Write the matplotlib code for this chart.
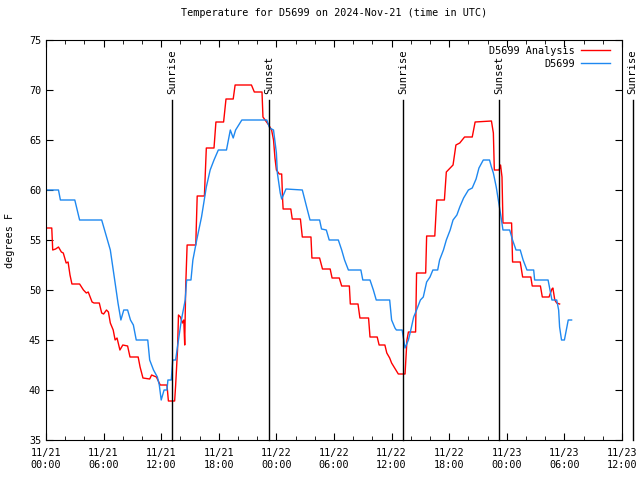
import pandas as pd
import matplotlib
matplotlib.use('Agg')
import matplotlib.pyplot as plt
import matplotlib.dates as mdates

plt.rcParams['font.family'] = 'DejaVu Sans Mono'

start = pd.Timestamp('2024-11-21 00:00')

# hours after 11/21 00:00 UTC, temperature in F
obs_hours = [0.0, 1.3, 1.5, 3.0, 3.5, 5.8, 6.1, 6.7, 7.2, 7.5, 7.8, 8.1, 8.5, 8.8, 9.1, 9.4,
             10.6, 10.8, 11.2, 11.6, 11.8, 12.0, 12.3, 12.6, 12.7, 13.05, 13.2, 13.5, 13.8,
             14.1, 14.5, 14.65, 15.1, 15.3, 15.7, 16.2, 16.7, 17.1, 17.5, 17.95, 18.8, 19.2,
             19.5, 19.75, 20.4, 23.0, 23.3, 23.7, 24.0, 24.1, 24.4, 24.55, 25.0, 26.7, 27.15,
             27.5, 28.5, 28.7, 29.2, 29.5, 30.45, 30.8, 31.1, 31.5, 32.8, 33.0, 33.75, 34.1,
             34.4, 35.8, 36.0, 36.35, 36.5, 37.1, 37.4, 37.75, 38.0, 38.3, 38.6, 39.0, 39.3,
             39.65, 40.0, 40.3, 40.8, 41.0, 41.4, 41.7, 42.1, 42.4, 42.8, 43.1, 43.5, 44.0,
             44.4, 44.8, 45.1, 45.55, 46.2, 46.4, 46.6, 46.9, 47.2, 47.4, 47.6, 48.3, 48.6,
             48.96, 49.4, 49.7, 50.1, 50.8, 50.9, 52.3, 52.5, 52.7, 53.2, 53.4, 53.5, 53.7,
             54.0, 54.2, 54.4, 54.75]
obs_temp = [60, 60, 59, 59, 57, 57, 56, 54, 50.7, 48.7, 47, 48, 48, 47, 46.5, 45,
            45, 43, 42, 41.3, 40.5, 39, 40, 40, 41, 41, 43, 43, 45,
            47, 49, 51, 51, 53, 55, 57.3, 60.3, 62, 63, 64, 64, 66,
            65.2, 66, 67, 67, 66.2, 66, 63.7, 61.7, 59.7, 59.1, 60.1, 60, 58.3,
            57, 57, 56.1, 56, 55, 55, 54, 53, 52, 52, 51, 51, 50,
            49, 49, 47, 46.2, 46, 46, 44.2, 45, 46, 47.3, 48, 49, 49.3,
            50.8, 51.3, 52, 52, 53, 54, 55, 56, 57, 57.5, 58.3, 59.2, 60,
            60.2, 61.1, 62.2, 63, 63, 62.3, 61.7, 60.3, 58.5, 57.3, 56, 56, 55,
            54, 54, 53, 52, 52, 51, 51, 50, 49, 49, 48, 46.3, 45,
            45, 46, 47, 47]

ana_hours = [0.0, 0.6, 0.7, 1.0, 1.3, 1.6, 1.8, 2.1, 2.3, 2.5, 2.7, 3.5, 3.9, 4.2, 4.4, 4.8,
             5.0, 5.55, 5.8, 6.0, 6.3, 6.5, 6.7, 7.0, 7.2, 7.4, 7.7, 8.0, 8.5, 8.75, 9.6,
             9.8, 10.1, 10.8, 11.0, 11.5, 11.9, 12.6, 12.75, 13.4, 13.5, 13.7, 13.8, 14.0,
             14.2, 14.35, 14.45, 14.55, 14.7, 15.6, 15.75, 16.5, 16.7, 17.5, 17.7, 18.5,
             18.75, 19.5, 19.7, 21.4, 21.7, 22.5, 22.6, 23.2, 23.5, 23.7, 23.85, 24.0, 24.3,
             24.55, 24.65, 24.7, 25.5, 25.65, 26.5, 26.7, 27.6, 27.7, 28.5, 28.8, 29.6, 29.8,
             30.55, 30.8, 31.6, 31.7, 32.5, 32.7, 33.6, 33.75, 34.5, 34.7, 35.3, 35.5, 35.8,
             36.0, 36.7, 37.4, 37.6, 37.75, 38.5, 38.6, 39.55, 39.65, 40.5, 40.7, 41.5, 41.7,
             42.1, 42.4, 42.7, 43.1, 43.6, 44.4, 44.7, 46.4, 46.6, 46.7, 47.2, 47.35, 47.5,
             47.6, 48.5, 48.6, 49.4, 49.65, 50.5, 50.65, 51.5, 51.7, 52.4, 52.7, 52.8, 53.0,
             53.2, 53.5]
ana_temp = [56.2, 56.2, 54, 54.1, 54.3, 53.8, 53.7, 52.7, 52.8, 51.5, 50.6, 50.6, 50, 49.7, 49.8, 48.8,
            48.7, 48.7, 47.7, 47.6, 48, 47.8, 46.7, 46, 45, 45.2, 44, 44.5, 44.4, 43.3, 43.3,
            42.3, 41.2, 41.1, 41.5, 41.3, 40.5, 40.5, 38.9, 38.9, 40.4, 44, 47.5, 47.3,
            46.7, 47, 44.5, 50.3, 54.5, 54.5, 59.4, 59.4, 64.2, 64.2, 66.8, 66.8,
            69.1, 69.1, 70.5, 70.5, 69.8, 69.8, 67.3, 66.5, 66, 65, 63.2, 62, 61.6,
            61.6, 59, 58.1, 58.1, 57.1, 57.1, 55.3, 55.3, 53.2, 53.2, 52.1, 52.1, 51.2,
            51.2, 50.4, 50.4, 48.6, 48.6, 47.2, 47.2, 45.3, 45.3, 44.5, 44.5, 43.7, 43.2,
            42.7, 41.6, 41.6, 45, 45.8, 45.8, 51.7, 51.7, 55.4, 55.4, 59, 59, 61.8,
            62.2, 62.5, 64.5, 64.7, 65.3, 65.3, 66.8, 66.9, 65.7, 62, 62, 62.5, 61.3,
            56.7, 56.7, 52.8, 52.8, 51.3, 51.3, 50.4, 50.4, 49.3, 49.3, 50.1, 50.2, 49,
            48.7, 48.6]

sun_hours = [13.13, 23.23, 37.19, 47.19, 61.1]
sun_labels = ['Sunrise', 'Sunset', 'Sunrise', 'Sunset', 'Sunrise']

obs_t = start + pd.to_timedelta(obs_hours, unit='h')
ana_t = start + pd.to_timedelta(ana_hours, unit='h')
sun_t = start + pd.to_timedelta(sun_hours, unit='h')

fs = 7.3

fig = plt.figure(figsize=(6.4, 4.8), dpi=100)
ax = fig.add_axes([46 / 640, 40 / 480, 576 / 640, 400 / 480])

ax.plot(ana_t, ana_temp, color='#ff0000', lw=1, label='D5699 Analysis')
ax.plot(obs_t, obs_temp, color='#1e88f0', lw=1, label='D5699')

for t, lab in zip(sun_t, sun_labels):
    ax.plot([t, t], [35, 69], color='black', lw=1, clip_on=False)
    ax.text(t, 69.6, lab, rotation=90, ha='center', va='bottom', fontsize=fs + 0.3,
            clip_on=False)

ax.set_xlim(start, start + pd.Timedelta(hours=60))
ax.set_ylim(35, 75)
ax.xaxis.set_major_locator(mdates.HourLocator(byhour=[0, 6, 12, 18]))
ax.xaxis.set_minor_locator(mdates.HourLocator(interval=2))
ax.xaxis.set_major_formatter(mdates.DateFormatter('%m/%d\n%H:%M'))
ax.set_yticks(range(35, 80, 5))
ax.tick_params(which='both', direction='in', top=True, right=True, labelsize=fs)
ax.tick_params(which='major', length=5)
ax.tick_params(which='minor', length=3)
ax.tick_params(axis='x', pad=6)

ax.set_title('Temperature for D5699 on 2024-Nov-21 (time in UTC)', fontsize=fs, pad=17)
ax.set_ylabel('degrees F', fontsize=fs, labelpad=10)

ax.legend(loc='upper right', bbox_to_anchor=(0.988, 1.0), frameon=False,
          markerfirst=False, fontsize=fs, handlelength=2.8, handletextpad=0.6,
          borderaxespad=0.15, labelspacing=0.3)

fig.savefig('out.png', dpi=100)
